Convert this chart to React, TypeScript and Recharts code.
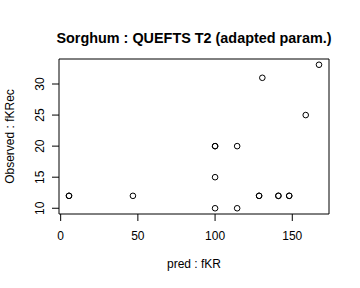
import { ScatterChart, Scatter, XAxis, YAxis, ReferenceArea, Label } from "recharts";

const predKR = [5.4, 5.4, 46.8, 100, 100, 114.3, 100, 100, 114.3, 128.5, 128.5, 141, 141, 148, 148, 130.6, 158.7, 167.3];
const obsKRec = [12, 12, 12, 20, 20, 20, 15, 10, 10, 12, 12, 12, 12, 12, 12, 31, 25, 33.1];
const xTicks = [0, 50, 100, 150];
const yTicks = [10, 15, 20, 25, 30];

const data = predKR.map((x, i) => ({ x, y: obsKRec[i] }));

// R style axis range: data range extended 4% each side
const ext = (v: number[]) => {
    const lo = Math.min(...v);
    const hi = Math.max(...v);
    const d = (hi - lo) * 0.04;
    return [lo - d, hi + d];
};
const xDom = ext(predKR);
const yDom = ext(obsKRec);

const font = "'Liberation Sans', Arial, Helvetica, sans-serif";

const YTick = (props: any) => {
    const { x, y, payload } = props;
    return (
        <text x={x} y={y} transform={`rotate(-90, ${x}, ${y})`} textAnchor="middle" fontSize={12} fill="#000" fontFamily={font}>
            {payload.value}
        </text>
    );
};

const XTick = (props: any) => {
    const { x, y, payload } = props;
    return (
        <text x={x} y={y} dy="0.71em" textAnchor="middle" fontSize={12} fill="#000" fontFamily={font}>
            {payload.value}
        </text>
    );
};

const Ring = (props: any) => (
    <circle cx={props.cx} cy={props.cy} r={2.8} fill="none" stroke="#000" strokeWidth={1} />
);

export default function App() {
    return (
        <div style={{ position: "absolute", left: 0, top: 0, width: 360, height: 288, background: "#fff", overflow: "hidden" }}>
            <div
                style={{
                    position: "absolute",
                    left: 14,
                    width: 360,
                    top: 29,
                    textAlign: "center",
                    whiteSpace: "nowrap",
                    fontFamily: font,
                    fontWeight: "bold",
                    fontSize: 14.4,
                    lineHeight: "18px",
                }}
            >
                Sorghum : QUEFTS T2 (adapted param.)
            </div>
            <ScatterChart width={360} height={288} margin={{ top: 59, right: 31, bottom: 0, left: 0 }}>
                <XAxis
                    type="number"
                    dataKey="x"
                    domain={xDom}
                    ticks={xTicks}
                    height={74}
                    axisLine={false}
                    tickLine={{ stroke: "#000" }}
                    tickSize={7}
                    tickMargin={10}
                    tick={<XTick />}
                    allowDataOverflow
                >
                    <Label
                        position="insideBottom"
                        offset={20}
                        value="pred : fKR"
                        style={{ fontSize: 12, fill: "#000", fontFamily: font }}
                    />
                </XAxis>
                <YAxis
                    type="number"
                    dataKey="y"
                    domain={yDom}
                    ticks={yTicks}
                    width={59}
                    axisLine={false}
                    tickLine={{ stroke: "#000" }}
                    tickSize={7}
                    tickMargin={8}
                    tick={<YTick />}
                    allowDataOverflow
                >
                    <Label
                        content={(p: any) => {
                            const vb = p.viewBox;
                            const cx = vb.x + 14;
                            const cy = vb.y + vb.height / 2;
                            return (
                                <text x={cx} y={cy} transform={`rotate(-90, ${cx}, ${cy})`} textAnchor="middle" fontSize={12} fill="#000" fontFamily={font}>
                                    Observed : fKRec
                                </text>
                            );
                        }}
                    />
                </YAxis>
                <ReferenceArea x1={xDom[0]} x2={xDom[1]} y1={yDom[0]} y2={yDom[1]} fill="none" stroke="#000" strokeWidth={1} fillOpacity={0} ifOverflow="visible" />
                <Scatter data={data} shape={<Ring />} isAnimationActive={false} />
            </ScatterChart>
        </div>
    );
}
